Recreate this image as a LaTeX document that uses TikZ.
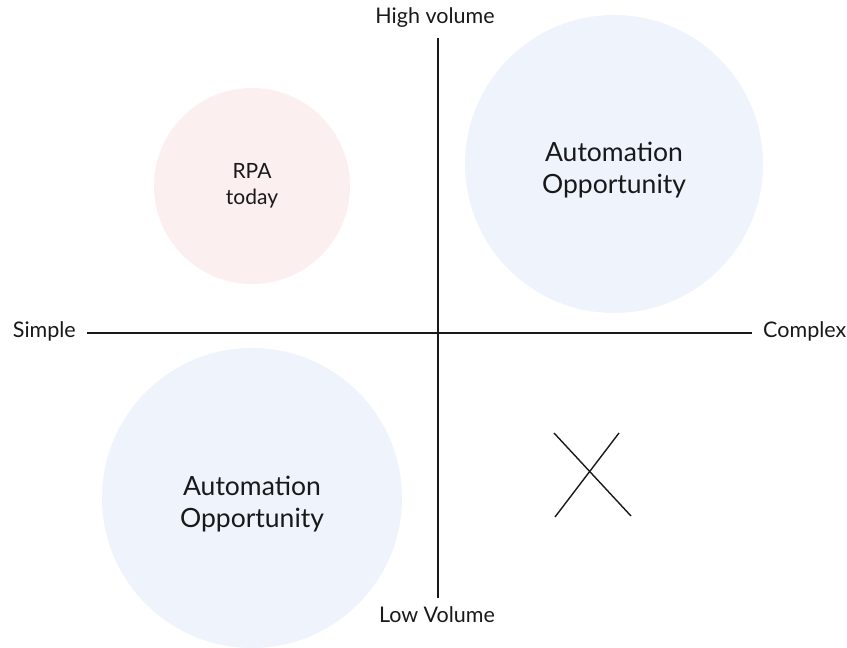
\documentclass[tikz,border=0pt]{standalone}
\usepackage{fontspec}
\setmainfont{Lato}
\definecolor{pinkfill}{HTML}{FBEFEF}
\definecolor{bluefill}{HTML}{EEF3FC}
\begin{document}
\begin{tikzpicture}[x=1pt,y=-1pt,
  lbl/.style={font=\fontsize{21.5}{26}\selectfont, inner sep=0pt, text=black!90},
  big/.style={font=\fontsize{26.5}{32}\selectfont, align=center, inner sep=0pt, text=black!90},
  small/.style={font=\fontsize{21}{26}\selectfont, align=center, inner sep=0pt, text=black!90},
  axis/.style={line width=1.4pt, black!90}]
\useasboundingbox (0,0) rectangle (847,648);
\fill[pinkfill] (252,186) circle (98);
\fill[bluefill] (614,164) circle (149);
\fill[bluefill] (252,498) circle (150);
\node[small] (rpa) at (252,186) {RPA\\today};
\node[big] (a1) at (614,170) {Automation\\Opportunity};
\node[big] (a2) at (252,504) {Automation\\Opportunity};
\coordinate (top) at (438,38);
\coordinate (bot) at (438,598);
\coordinate (lft) at (87,333);
\coordinate (rgt) at (752,333);
\draw[axis] (top) -- (bot);
\draw[axis] (lft) -- (rgt);
\node[lbl] (hv) at (435,18) {High volume};
\node[lbl] (lv) at (437,615) {Low Volume};
\node[lbl,anchor=east] (simple) at (76,331) {Simple};
\node[lbl,anchor=west] (complex) at (763,331) {Complex};
\coordinate (x1) at (554,433);
\coordinate (x2) at (631,516);
\coordinate (x3) at (619,433);
\coordinate (x4) at (555,517);
\draw[axis] (x1) -- (x2);
\draw[axis] (x3) -- (x4);
\end{tikzpicture}
\end{document}
